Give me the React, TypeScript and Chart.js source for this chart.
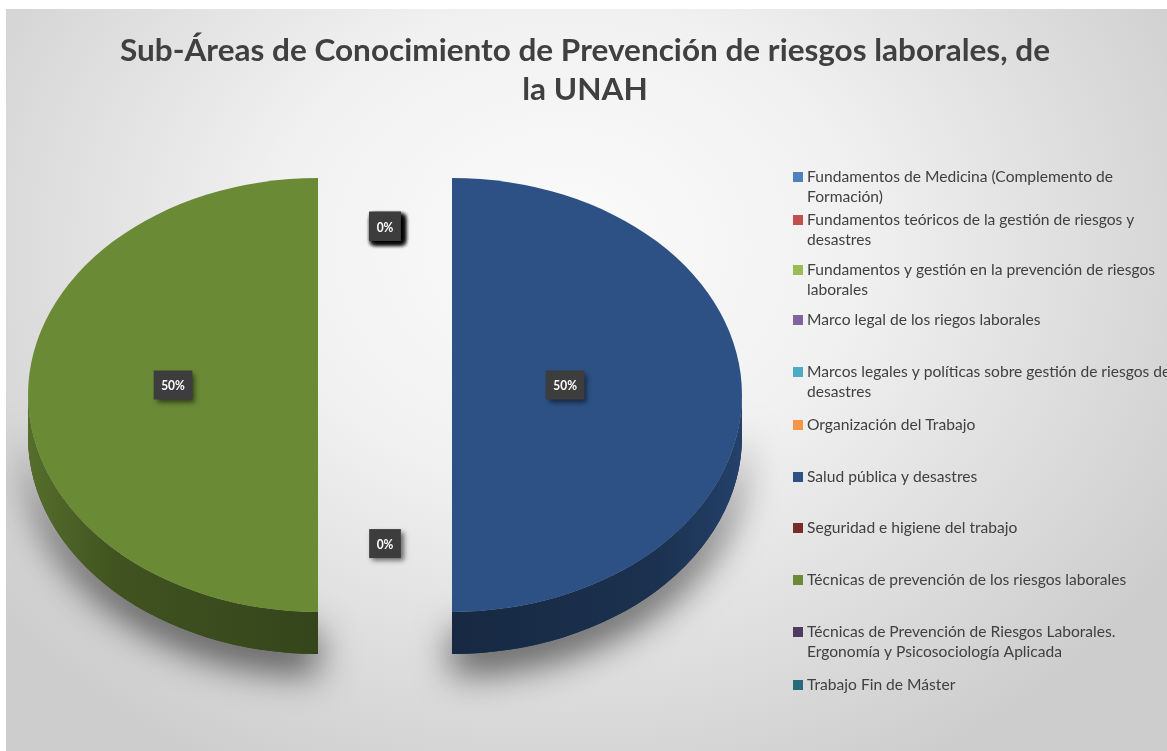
import React, { useEffect, useRef } from "react";
import { Chart, registerables } from "chart.js";

Chart.register(...registerables);

const TITLE_LINES = [
  "Sub-Áreas de Conocimiento de Prevención de riesgos laborales, de",
  "la UNAH",
];

const categories: string[][] = [
  ["Fundamentos de Medicina (Complemento de", "Formación)"],
  ["Fundamentos teóricos de la gestión de riesgos y", "desastres"],
  ["Fundamentos y gestión en la prevención de riesgos", "laborales"],
  ["Marco legal de los riegos laborales"],
  ["Marcos legales y políticas sobre gestión de riesgos de", "desastres"],
  ["Organización del Trabajo"],
  ["Salud pública y desastres"],
  ["Seguridad e higiene del trabajo"],
  ["Técnicas de prevención de los riesgos laborales"],
  ["Técnicas de Prevención de Riesgos Laborales.", "Ergonomía y Psicosociología Aplicada"],
  ["Trabajo Fin de Máster"],
];

const values = [0, 0, 0, 0, 0, 0, 1, 0, 1, 0, 0];

const sliceColors = [
  "#4F81BD",
  "#C0504D",
  "#9BBB59",
  "#8064A2",
  "#4BACC6",
  "#F79646",
  "#2D5184",
  "#772C2A",
  "#6A8A36",
  "#4D3B62",
  "#276A7C",
];

const CANVAS_W = 1161;
const CANVAS_H = 742;

function shade(hex: string, f: number) {
  const n = parseInt(hex.slice(1), 16);
  const r = Math.round(((n >> 16) & 255) * f);
  const g = Math.round(((n >> 8) & 255) * f);
  const b = Math.round((n & 255) * f);
  return `rgb(${r},${g},${b})`;
}

function fitText(
  ctx: CanvasRenderingContext2D,
  text: string,
  x: number,
  y: number,
  sx: number
) {
  ctx.save();
  ctx.translate(x, y);
  ctx.scale(sx, 1);
  ctx.fillText(text, 0, 0);
  ctx.restore();
}

const pie3d = {
  id: "pie3d",
  beforeDatasetsDraw(chart: any, _args: any, opts: any) {
    const ctx: CanvasRenderingContext2D = chart.ctx;
    const meta = chart.getDatasetMeta(0);
    const arcs = meta.data as any[];
    if (!arcs.length) return false;
    const cx = arcs[0].x;
    const cy = arcs[0].y;
    const ky = opts.tilt;
    const depth = opts.depth / ky;
    const ex = opts.explode;
    const bg = chart.data.datasets[0].backgroundColor as string[];

    ctx.save();
    ctx.translate(cx, cy);
    ctx.scale(1, ky);
    ctx.translate(-cx, -cy);

    const sidePaths = (arc: any, x: number, y: number) => {
      const s = arc.startAngle;
      const e = arc.endAngle;
      const r = arc.outerRadius;
      const parts: [number, number][] = [];
      for (let k = -1; k <= 1; k++) {
        const lo = Math.max(s, 2 * Math.PI * k);
        const hi = Math.min(e, 2 * Math.PI * k + Math.PI);
        if (hi > lo) parts.push([lo, hi]);
      }
      return parts.map(([lo, hi]) => {
        const p = new Path2D();
        p.arc(x, y, r, lo, hi);
        p.arc(x, y + depth, r, hi, lo, true);
        p.closePath();
        return p;
      });
    };

    // soft shadows + side walls
    arcs.forEach((arc: any, i: number) => {
      if (arc.endAngle - arc.startAngle <= 0) return;
      const mid = (arc.startAngle + arc.endAngle) / 2;
      const x = cx + Math.cos(mid) * ex;
      const y = cy + Math.sin(mid) * ex;
      const paths = sidePaths(arc, x, y);
      ctx.save();
      ctx.shadowColor = "rgba(0,0,0,0.6)";
      ctx.shadowBlur = 36;
      ctx.shadowOffsetY = 20;
      ctx.fillStyle = shade(bg[i], 0.5);
      paths.forEach((p) => ctx.fill(p));
      ctx.restore();
      const grad = ctx.createLinearGradient(x + Math.cos(mid) * arc.outerRadius, y, x, y);
      grad.addColorStop(0, shade(bg[i], 0.8));
      grad.addColorStop(0.3, shade(bg[i], 0.6));
      grad.addColorStop(1, shade(bg[i], 0.5));
      ctx.fillStyle = grad;
      paths.forEach((p) => ctx.fill(p));
    });

    // top faces, drawn by the library's arc elements
    arcs.forEach((arc: any) => {
      if (arc.endAngle - arc.startAngle <= 0) return;
      const mid = (arc.startAngle + arc.endAngle) / 2;
      ctx.save();
      ctx.translate(Math.cos(mid) * ex, Math.sin(mid) * ex);
      arc.draw(ctx);
      ctx.restore();
    });

    ctx.restore();
    return false;
  },
  afterDraw(chart: any, _args: any, opts: any) {
    const ctx: CanvasRenderingContext2D = chart.ctx;
    const meta = chart.getDatasetMeta(0);
    const arcs = meta.data as any[];
    const data = chart.data.datasets[0].data as number[];
    const total = data.reduce((a, b) => a + b, 0);
    const ky = opts.tilt;
    const ex = opts.explode;

    // ---- Title ----
    ctx.save();
    ctx.fillStyle = "#404040";
    ctx.textAlign = "center";
    ctx.textBaseline = "middle";
    ctx.font = `bold ${opts.titleSize}px Lato`;
    const tw = ctx.measureText(TITLE_LINES[0]).width;
    const tsx = opts.titleWidth / tw;
    TITLE_LINES.forEach((t, i) => {
      fitText(ctx, t, opts.titleX, opts.titleY[i], tsx);
    });
    ctx.restore();

    // ---- Data labels ----
    if (arcs.length) {
      const cx = arcs[0].x;
      const cy = arcs[0].y;
      arcs.forEach((arc: any, i: number) => {
        const mid = (arc.startAngle + arc.endAngle) / 2;
        const rf = opts.labelRadius[i] ?? opts.labelRadiusDefault;
        const d = ex + rf * arc.outerRadius;
        const px = cx + Math.cos(mid) * d;
        const py = cy + Math.sin(mid) * d * ky + opts.labelShiftY;
        const txt = `${Math.round((data[i] / total) * 100)}%`;
        ctx.save();
        ctx.font = "bold 13px Lato";
        const w = ctx.measureText(txt).width * 0.92 + 15;
        const h = 29;
        ctx.shadowColor = "rgba(0,0,0,0.55)";
        ctx.shadowBlur = 5;
        ctx.shadowOffsetX = 3;
        ctx.shadowOffsetY = 3;
        ctx.fillStyle = "#3d3d3d";
        ctx.fillRect(px - w / 2, py - h / 2, w, h);
        ctx.shadowColor = "transparent";
        ctx.fillStyle = "#ffffff";
        ctx.textAlign = "center";
        ctx.textBaseline = "middle";
        fitText(ctx, txt, px, py + 1, 0.92);
        ctx.restore();
      });
    }

    // ---- Legend ----
    ctx.save();
    ctx.font = `${opts.legendSize}px Lato`;
    const lw = ctx.measureText(categories[0][0]).width;
    const lsx = opts.legendRefWidth / lw;
    ctx.textBaseline = "middle";
    ctx.textAlign = "left";
    const labels = chart.data.labels as string[][];
    const bg = chart.data.datasets[0].backgroundColor as string[];
    labels.forEach((lines, i) => {
      const y = opts.legendRows[i];
      ctx.fillStyle = bg[i];
      ctx.fillRect(opts.legendX, y - 5, 10, 10);
      ctx.fillStyle = "#404040";
      lines.forEach((ln, j) => {
        fitText(ctx, ln, opts.legendX + 14, y + j * opts.legendLineHeight, lsx);
      });
    });
    ctx.restore();
  },
};

export default function App() {
  const ref = useRef<HTMLCanvasElement | null>(null);

  useEffect(() => {
    if (!ref.current) return;
    const chart = new Chart(ref.current, {
      type: "pie",
      data: {
        labels: categories as any,
        datasets: [
          {
            data: values,
            backgroundColor: sliceColors,
            borderWidth: 0,
          },
        ],
      },
      options: {
        responsive: false,
        animation: false,
        radius: 290,
        layout: { padding: { left: 0, right: CANVAS_W - 758, top: 30, bottom: 0 } },
        plugins: {
          legend: { display: false },
          title: { display: false },
          tooltip: { enabled: false },
          pie3d: {
            tilt: 0.748,
            depth: 42,
            explode: 67,
            labelRadiusDefault: 0.5,
            labelRadius: { 6: 0.39 },
            labelShiftY: -10,
            titleX: 579,
            titleY: [42, 81],
            titleSize: 31,
            titleWidth: 930,
            legendX: 787,
            legendRows: [168, 211, 261, 311, 363, 416, 468, 519, 571, 623, 676],
            legendLineHeight: 20,
            legendSize: 15,
            legendRefWidth: 306,
          },
        } as any,
      } as any,
      plugins: [pie3d as any],
    });
    return () => chart.destroy();
  }, []);

  return (
    <div
      style={{
        position: "fixed",
        left: 6,
        top: 9,
        width: CANVAS_W,
        height: CANVAS_H,
        background:
          "radial-gradient(ellipse 62% 80% at 48% 32%, #fbfbfb 0%, #f1f1f1 40%, #dcdcdc 75%, #cdcdcd 100%)",
      }}
    >
      <canvas ref={ref} width={CANVAS_W} height={CANVAS_H} style={{ display: "block" }} />
    </div>
  );
}
